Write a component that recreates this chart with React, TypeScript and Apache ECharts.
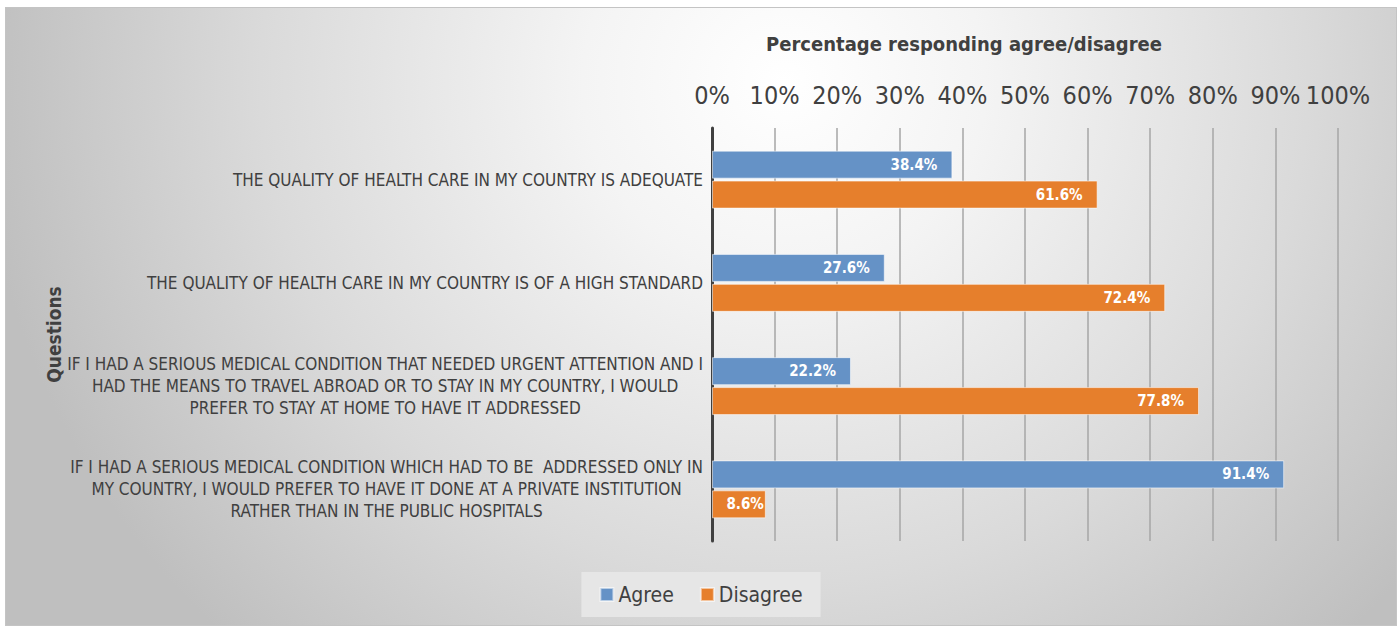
import React, { useEffect, useRef } from "react";
import * as echarts from "echarts";

const categories: string[] = [
  "THE QUALITY OF HEALTH CARE IN MY COUNTRY IS ADEQUATE",
  "THE QUALITY OF HEALTH CARE IN MY COUNTRY IS OF A HIGH STANDARD",
  "IF I HAD A SERIOUS MEDICAL CONDITION THAT NEEDED URGENT ATTENTION AND I\nHAD THE MEANS TO TRAVEL ABROAD OR TO STAY IN MY COUNTRY, I WOULD\nPREFER TO STAY AT HOME TO HAVE IT ADDRESSED",
  "IF I HAD A SERIOUS MEDICAL CONDITION WHICH HAD TO BE  ADDRESSED ONLY IN\nMY COUNTRY, I WOULD PREFER TO HAVE IT DONE AT A PRIVATE INSTITUTION\nRATHER THAN IN THE PUBLIC HOSPITALS",
];
const agree: number[] = [38.4, 27.6, 22.2, 91.4];
const disagree: number[] = [61.6, 72.4, 77.8, 8.6];
const seriesNames: string[] = ["Agree", "Disagree"];
const xTitle = "Percentage responding agree/disagree";
const yTitle = "Questions";

const FONT = "'Liberation Sans Narrow', 'DejaVu Sans Condensed', 'Liberation Sans', sans-serif";

export default function App() {
  const ref = useRef<HTMLDivElement>(null);
  useEffect(() => {
    if (!ref.current) return;
    const chart = echarts.init(ref.current, undefined, { renderer: "svg" });
    const labelFor = (small: boolean) => ({
      show: true,
      position: "insideRight",
      distance: small ? 2 : 15,
      color: "#ffffff",
      fontWeight: "bold",
      fontSize: 15,
      fontFamily: FONT,
      formatter: (p: any) => Number(p.value).toFixed(1) + "%",
    });
    const mk = (vals: number[]) =>
      vals.map((v) => ({ value: v, label: labelFor(v < 15) }));
    chart.setOption({
      animation: false,
      backgroundColor: "transparent",
      title: {
        text: xTitle,
        left: 953,
        top: 21,
        textAlign: "center",
        textStyle: { fontFamily: FONT, fontSize: 20, fontWeight: "bold", color: "#404040" },
      },
      legend: {
        data: seriesNames,
        bottom: 8,
        left: "center",
        icon: "rect",
        itemWidth: 13,
        itemHeight: 13,
        itemGap: 26,
        padding: [12, 18, 12, 18],
        backgroundColor: "#e6e6e6",
        textStyle: { fontFamily: FONT, fontSize: 21, color: "#404040" },
      },
      grid: {
        left: 706,
        right: 58,
        top: 120,
        bottom: 84,
        containLabel: false,
        outerBoundsMode: "none",
      },
      xAxis: {
        type: "value",
        position: "top",
        min: 0,
        max: 100,
        interval: 10,
        axisLine: { show: false },
        axisTick: { show: false },
        axisLabel: {
          formatter: "{value}%",
          fontFamily: FONT,
          fontSize: 25,
          color: "#404040",
          margin: 20,
        },
        splitLine: { show: true, lineStyle: { color: "#a6a6a6", width: 1.5 } },
      },
      yAxis: {
        type: "category",
        inverse: true,
        data: categories,
        name: yTitle,
        nameLocation: "middle",
        nameRotate: 90,
        nameGap: 645,
        nameTextStyle: { fontFamily: FONT, fontSize: 19, fontWeight: "bold", color: "#404040" },
        axisLine: { show: true, lineStyle: { color: "#404040", width: 3 } },
        axisTick: { show: false },
        splitLine: { show: false },
        axisLabel: {
          margin: 9,
          align: "right",
          formatter: (v: string) =>
            v
              .split("\n")
              .map((l) => `{c|${l}}`)
              .join("\n"),
          rich: {
            c: {
              align: "center",
              fontFamily: FONT,
              fontSize: 17,
              lineHeight: 22,
              color: "#404040",
            },
          },
        },
      },
      series: [
        {
          name: seriesNames[0],
          type: "bar",
          data: mk(agree),
          barWidth: 28,
          barGap: "7%",
          itemStyle: { color: "#6592c6", borderColor: "rgba(255,255,255,0.55)", borderWidth: 1 },
        },
        {
          name: seriesNames[1],
          type: "bar",
          data: mk(disagree),
          barWidth: 28,
          barGap: "7%",
          itemStyle: { color: "#e67f2c", borderColor: "rgba(255,255,255,0.55)", borderWidth: 1 },
        },
      ],
    });
    return () => chart.dispose();
  }, []);
  return (
    <div
      ref={ref}
      style={{
        position: "absolute",
        left: 6,
        top: 8,
        width: 1390,
        height: 617,
        outline: "1px solid #c4c4c4",
        background:
          "radial-gradient(ellipse 58% 125% at 56% 12%, #ffffff 0%, #f4f4f4 25%, #dadada 65%, #bfbfbf 100%)",
      }}
    />
  );
}
